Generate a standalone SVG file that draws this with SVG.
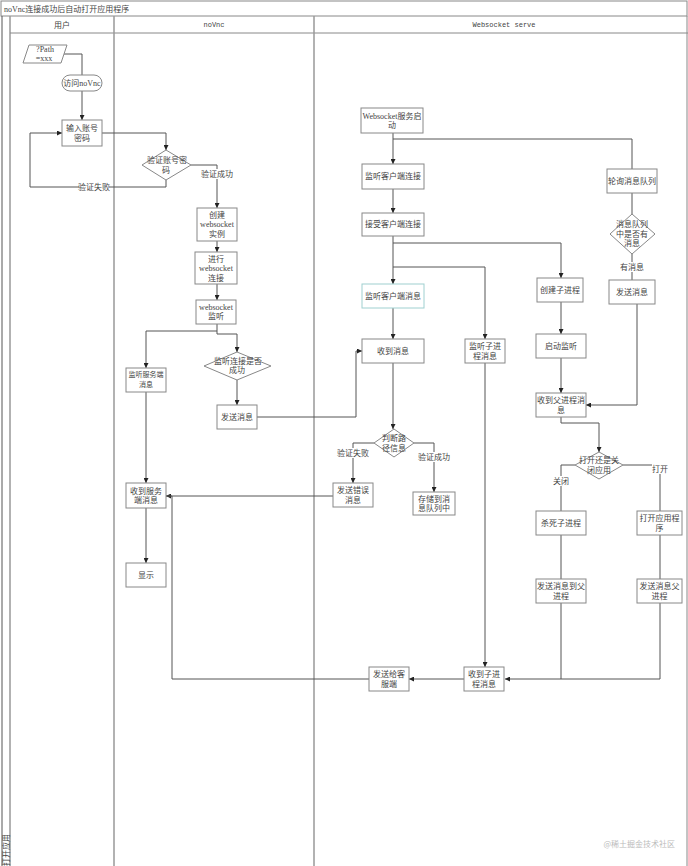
<svg xmlns="http://www.w3.org/2000/svg" width="688" height="866" viewBox="0 0 688 866">
<defs>
<marker id="arr" viewBox="0 0 6 6" refX="6" refY="3" markerWidth="5" markerHeight="5" orient="auto" markerUnits="userSpaceOnUse">
<path d="M0,0 L6,3 L0,6 z" fill="#222"/>
</marker>
<style>
.lane{stroke:#999;stroke-width:1.5;fill:none}
.frame{stroke:#888;stroke-width:1;fill:none}
.box{fill:#fff;stroke:#888;stroke-width:1}
.t{font-family:"Liberation Serif","Noto Sans CJK SC",serif;font-size:8px;fill:#444;text-anchor:middle;dominant-baseline:central}
.h{font-family:"Liberation Mono","Noto Sans CJK SC",monospace;font-size:7px;fill:#444;text-anchor:middle;dominant-baseline:central}
.c{fill:none;stroke:#555;stroke-width:1}
.ca{fill:none;stroke:#555;stroke-width:1;marker-end:url(#arr)}
.lb{fill:#fff}
</style>
</defs>
<rect width="688" height="866" fill="#fff"/>
<g id="pool">
<rect x="1" y="1" width="686" height="15" class="frame"/>
<text x="4" y="9" class="t" style="text-anchor:start">noVnc连接成功后自动打开应用程序</text>
<line x1="2" y1="16" x2="2" y2="866" stroke="#555" stroke-width="1"/>
<line x1="10" y1="16" x2="10" y2="866" class="lane"/>
<line x1="10" y1="33" x2="688" y2="33" class="frame"/>
<line x1="114" y1="16" x2="114" y2="866" class="lane"/>
<line x1="314" y1="16" x2="314" y2="866" class="lane"/>
<line x1="687" y1="16" x2="687" y2="866" class="frame"/>
<text x="62" y="25" class="t">用户</text>
<text x="214" y="25" class="h">noVnc</text>
<text x="504" y="25" class="h">Websocket serve</text>
<text x="6" y="850" class="t" transform="rotate(-90 6 850)">打开应用</text>
</g>
<g id="connectors">
<path d="M64,54 H82 V75" class="c"/>
<path d="M82,91 V120" class="ca"/>
<path d="M102,133 H166 V150" class="ca"/>
<path d="M166,180 V187 H30 V133 H62" class="ca"/>
<path d="M191,165 H217 V208" class="ca"/>
<path d="M217,241 V252" class="ca"/>
<path d="M217,284 V300" class="ca"/>
<path d="M217,324 V331 H146 V368" class="ca"/>
<path d="M217,331 V334 H237 V352" class="ca"/>
<path d="M237,380 V405" class="ca"/>
<path d="M257,417 H356 V351 H362" class="ca"/>
<path d="M146,392 V483" class="ca"/>
<path d="M146,508 V563" class="ca"/>
<path d="M393,133 V164" class="ca"/>
<path d="M393,139 H632 V169" class="c"/>
<path d="M393,189 V213" class="ca"/>
<path d="M393,236 V284" class="ca"/>
<path d="M393,243 H561 V278" class="ca"/>
<path d="M393,267 H485 V339" class="ca"/>
<path d="M393,308 V339" class="ca"/>
<path d="M393,363 V429" class="ca"/>
<path d="M374,443 H353 V483" class="ca"/>
<path d="M414,443 H434 V492" class="ca"/>
<path d="M333,496 H166" class="ca"/>
<path d="M632,193 V214" class="c"/>
<path d="M632,254 V280" class="c"/>
<path d="M637,304 V405 H586" class="ca"/>
<path d="M561,302 V334" class="ca"/>
<path d="M561,358 V393" class="ca"/>
<path d="M561,417 V423 H599 V452" class="ca"/>
<path d="M575,465 H561 V511" class="c"/>
<path d="M623,465 H660 V511" class="c"/>
<path d="M561,535 V579" class="c"/>
<path d="M660,535 V579" class="c"/>
<path d="M660,603 V679 H561" class="c"/>
<path d="M561,603 V679 H505" class="ca"/>
<path d="M485,363 V667" class="ca"/>
<path d="M464,679 H409" class="ca"/>
<path d="M369,679 H172 V496 H166" class="c"/>
<rect x="79" y="182" width="30" height="10" class="lb"/>
<text x="94" y="187" class="t">验证失败</text>
<rect x="201" y="169" width="32" height="10" class="lb"/>
<text x="217" y="174" class="t">验证成功</text>
<rect x="337" y="448" width="32" height="10" class="lb"/>
<text x="353" y="453" class="t">验证失败</text>
<rect x="418" y="452" width="32" height="10" class="lb"/>
<text x="434" y="457" class="t">验证成功</text>
<rect x="620" y="262" width="24" height="10" class="lb"/>
<text x="632" y="267" class="t">有消息</text>
<rect x="553" y="476" width="16" height="10" class="lb"/>
<text x="561" y="481" class="t">关闭</text>
<rect x="652" y="464" width="16" height="10" class="lb"/>
<text x="660" y="469" class="t">打开</text>
</g>
<g id="n_path"><polygon points="29,45 67,45 61,63 23,63" class="box"/><text x="45" y="49.5" class="t">?Path</text><text x="44" y="58.5" class="t">=xxx</text></g>
<g id="n_visit"><rect x="62" y="75" width="40" height="16" rx="8" class="box"/><text x="82" y="83" class="t">访问noVnc</text></g>
<g id="n_input"><rect x="62" y="120" width="40" height="26" class="box"/><text x="82" y="128" class="t">输入账号</text><text x="82" y="138" class="t">密码</text></g>
<g id="n_verify"><polygon points="166,150 191,165 166,180 142,165" class="box"/><text x="167" y="160" class="t">验证账号密</text><text x="166" y="170" class="t">码</text></g>
<g id="n_create"><rect x="197" y="208" width="40" height="33" class="box"/><text x="217" y="215" class="t">创建</text><text x="217" y="224.5" class="t">websocket</text><text x="217" y="234" class="t">实例</text></g>
<g id="n_connect"><rect x="195" y="252" width="42" height="32" class="box"/><text x="216" y="259" class="t">进行</text><text x="216" y="268.5" class="t">websocket</text><text x="216" y="278" class="t">连接</text></g>
<g id="n_listen"><rect x="196" y="300" width="40" height="24" class="box"/><text x="216" y="307" class="t">websocket</text><text x="216" y="316.5" class="t">监听</text></g>
<g id="n_listensrv"><rect x="126" y="368" width="40" height="24" class="box"/><text x="146" y="375" class="t" style="font-size:7px">监听服务端</text><text x="146" y="384.5" class="t" style="font-size:7px">消息</text></g>
<g id="n_listenok"><polygon points="237,352 271,366 237,380 204,366" class="box"/><text x="238" y="361" class="t">监听连接是否</text><text x="237" y="370.5" class="t">成功</text></g>
<g id="n_send1"><rect x="217" y="405" width="40" height="24" class="box"/><text x="237" y="417" class="t">发送消息</text></g>
<g id="n_recvsrv"><rect x="126" y="483" width="40" height="25" class="box"/><text x="146" y="491" class="t">收到服务</text><text x="146" y="500.5" class="t">端消息</text></g>
<g id="n_show"><rect x="126" y="563" width="40" height="24" class="box"/><text x="146" y="575" class="t">显示</text></g>
<g id="n_wsstart"><rect x="361" y="108" width="62" height="25" class="box"/><text x="392" y="116" class="t">Websocket服务启</text><text x="392" y="125.5" class="t">动</text></g>
<g id="n_listencli"><rect x="362" y="164" width="62" height="25" class="box"/><text x="393" y="176.5" class="t">监听客户端连接</text></g>
<g id="n_poll"><rect x="607" y="169" width="50" height="24" class="box"/><text x="632" y="181" class="t">轮询消息队列</text></g>
<g id="n_accept"><rect x="362" y="213" width="62" height="23" class="box"/><text x="393" y="224.5" class="t">接受客户端连接</text></g>
<g id="n_hasmsg"><polygon points="632,214 655,234 632,254 610,234" class="box"/><text x="632" y="224.5" class="t">消息队列</text><text x="632" y="234" class="t">中是否有</text><text x="632" y="243.5" class="t">消息</text></g>
<g id="n_listenclimsg"><rect x="362" y="284" width="62" height="24" fill="#fff" stroke="#9fd0d0" stroke-width="1"/><text x="393" y="296" class="t">监听客户端消息</text></g>
<g id="n_createchild"><rect x="537" y="278" width="46" height="24" class="box"/><text x="560" y="290" class="t">创建子进程</text></g>
<g id="n_send2"><rect x="609" y="280" width="46" height="24" class="box"/><text x="632" y="292" class="t">发送消息</text></g>
<g id="n_startlisten"><rect x="536" y="334" width="50" height="24" class="box"/><text x="561" y="346" class="t">启动监听</text></g>
<g id="n_recv"><rect x="362" y="339" width="62" height="24" class="box"/><text x="393" y="351" class="t">收到消息</text></g>
<g id="n_listenchild"><rect x="465" y="339" width="40" height="24" class="box"/><text x="485" y="346.5" class="t">监听子进</text><text x="485" y="356" class="t">程消息</text></g>
<g id="n_recvparent"><rect x="536" y="393" width="50" height="24" class="box"/><text x="561" y="400.5" class="t">收到父进程消</text><text x="561" y="410" class="t">息</text></g>
<g id="n_judge"><polygon points="394,429 414,443 394,457 374,443" class="box"/><text x="394" y="438.5" class="t">判断路</text><text x="394" y="448" class="t">径信息</text></g>
<g id="n_openclose"><polygon points="599,452 623,465 599,479 575,465" class="box"/><text x="599" y="460.5" class="t">打开还是关</text><text x="599" y="470" class="t">闭应用</text></g>
<g id="n_senderr"><rect x="333" y="483" width="40" height="24" class="box"/><text x="353" y="490.5" class="t">发送错误</text><text x="353" y="500" class="t">消息</text></g>
<g id="n_store"><rect x="413" y="492" width="42" height="23" class="box"/><text x="434" y="499" class="t">存储到消</text><text x="434" y="508.5" class="t">息队列中</text></g>
<g id="n_kill"><rect x="536" y="511" width="50" height="24" class="box"/><text x="561" y="523" class="t">杀死子进程</text></g>
<g id="n_openapp"><rect x="637" y="511" width="45" height="24" class="box"/><text x="659.5" y="518.5" class="t">打开应用程</text><text x="659.5" y="528" class="t">序</text></g>
<g id="n_sendparent1"><rect x="536" y="579" width="50" height="24" class="box"/><text x="561" y="586.5" class="t">发送消息到父</text><text x="561" y="596" class="t">进程</text></g>
<g id="n_sendparent2"><rect x="637" y="579" width="45" height="24" class="box"/><text x="659.5" y="586.5" class="t">发送消息父</text><text x="659.5" y="596" class="t">进程</text></g>
<g id="n_recvchild"><rect x="464" y="667" width="40" height="24" class="box"/><text x="484" y="674.5" class="t">收到子进</text><text x="484" y="684" class="t">程消息</text></g>
<g id="n_sendcli"><rect x="369" y="667" width="40" height="24" class="box"/><text x="389" y="674.5" class="t">发送给客</text><text x="389" y="684" class="t">服端</text></g>
<text x="675" y="843" style="font-family:'Noto Sans CJK SC',sans-serif;font-size:8px;fill:#bbb;text-anchor:end;dominant-baseline:central">@稀土掘金技术社区</text>
</svg>
